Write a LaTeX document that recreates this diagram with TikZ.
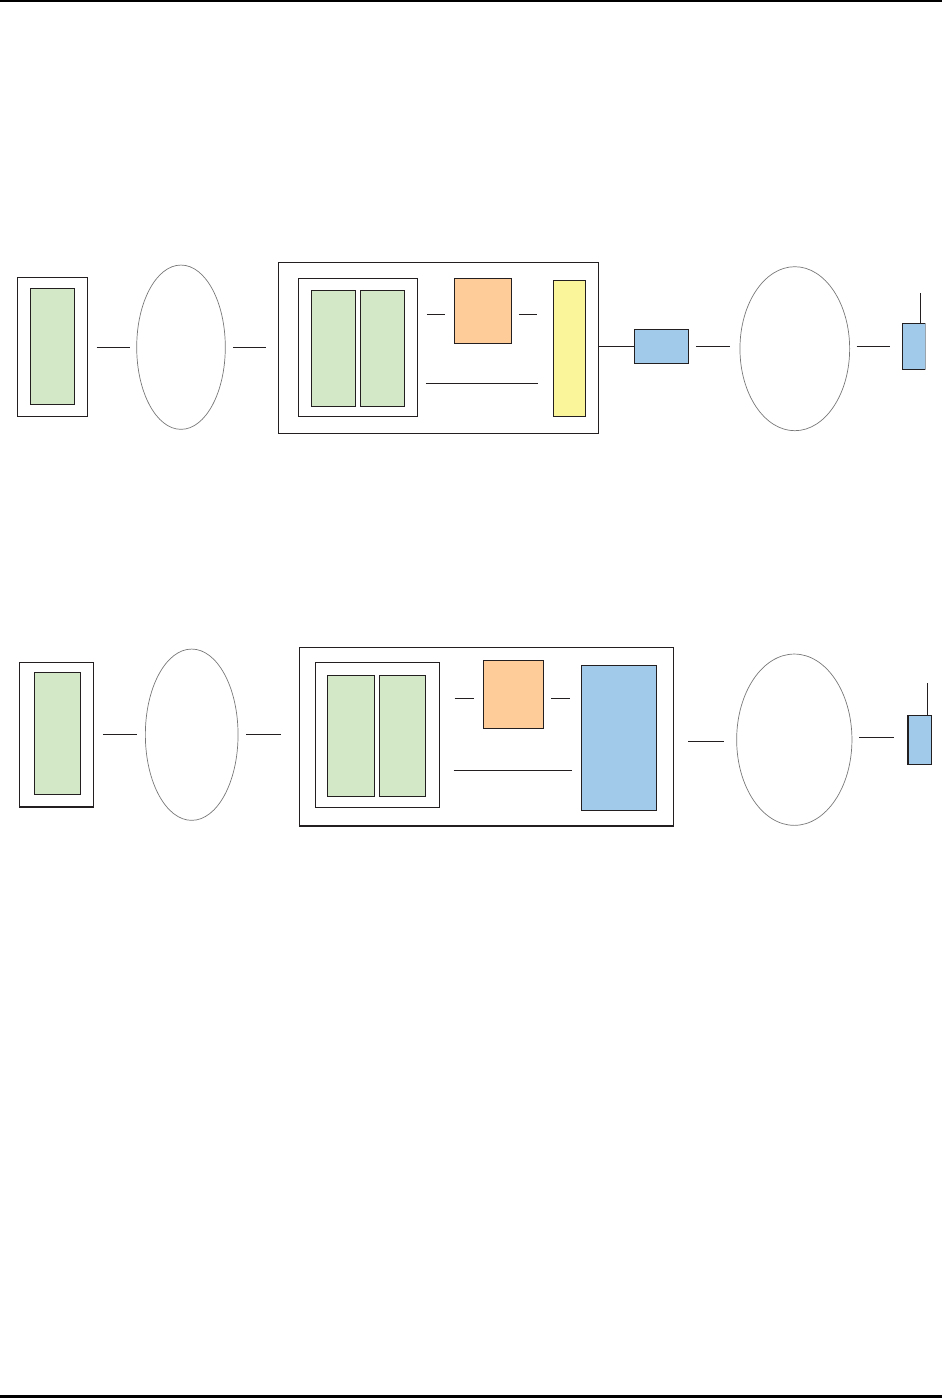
\documentclass[tikz,border=0pt]{standalone}
\usetikzlibrary{shapes.geometric}
\definecolor{gfill}{RGB}{210,232,199}
\definecolor{ofill}{RGB}{253,204,152}
\definecolor{yfill}{RGB}{250,244,154}
\definecolor{bfill}{RGB}{160,201,234}
\definecolor{edge}{RGB}{35,31,32}
\definecolor{ering}{RGB}{120,120,120}
\tikzset{
  box/.style={draw=edge, line width=1.2pt, rectangle, inner sep=0pt, minimum width=#1},
  box/.default=10pt,
  ring/.style={draw=ering, line width=0.7pt, ellipse, inner sep=0pt},
  wire/.style={draw=edge, line width=1.2pt},
  rule/.style={draw=black, line width=2.5pt}
}
\begin{document}
\begin{tikzpicture}[x=1pt,y=-1pt]
\useasboundingbox (0,0) rectangle (946,1398);
% page rules
\coordinate (tl) at (0,1);
\coordinate (tr) at (942,1);
\coordinate (bl) at (0,1396.5);
\coordinate (br) at (942,1396.5);
\draw[rule, line width=2pt] (tl) -- (tr);
\draw[rule] (bl) -- (br);

% ---------- Row 1 ----------
\begin{scope}
\clip (0,250) rectangle (925.3,450);
\node[box=70.4pt, minimum height=139pt] (o1) at (52.5,346.8) {};
\node[box=44pt, minimum height=116pt, fill=gfill] (g1) at (52.3,346.3) {};
\node[ring, minimum width=88.6pt, minimum height=164.3pt] (e1) at (181,347.2) {};
\node[box=320.4pt, minimum height=170.6pt] (B1) at (438.5,348) {};
\node[box=119.4pt, minimum height=138pt] (i1) at (358,347.3) {};
\node[box=44.4pt, minimum height=116pt, fill=gfill] (g1a) at (333.5,348.3) {};
\node[box=44.4pt, minimum height=116pt, fill=gfill] (g1b) at (382.5,348.3) {};
\node[box=57pt, minimum height=65pt, fill=ofill] (or1) at (482.8,310.8) {};
\node[box=32pt, minimum height=136pt, fill=yfill] (y1) at (569.3,348.3) {};
\node[box=54.4pt, minimum height=34pt, fill=bfill] (b1) at (661.5,346.3) {};
\node[ring, minimum width=109.7pt, minimum height=164pt] (e2) at (794.8,348.7) {};
\node[box=23.3pt, minimum height=46pt, fill=bfill] (s1) at (914,346.3) {};
\coordinate (a1) at ([xshift=19pt,yshift=30pt]s1.north west);

\coordinate (r1a) at (0,347.3);
\coordinate (r1b) at (0,314.3);
\coordinate (r1c) at (0,383.3);
\coordinate (r1d) at (0,346.3);
\draw[wire, shorten <=8.3pt, shorten >=6.7pt] (o1.east |- r1a) -- (e1.west |- r1a);
\draw[wire, shorten <=7.4pt, shorten >=11.6pt] (e1.east |- r1a) -- (B1.west |- r1a);
\draw[wire, shorten <=8.6pt, shorten >=8.3pt] (i1.east |- r1b) -- (or1.west |- r1b);
\draw[wire, shorten <=7pt, shorten >=15.3pt] (or1.east |- r1b) -- (y1.west |- r1b);
\draw[wire, shorten <=7.6pt, shorten >=14.3pt] (i1.east |- r1c) -- (y1.west |- r1c);
\draw[wire] (B1.east |- r1d) -- (b1.west |- r1d);
\draw[wire, shorten <=6.6pt, shorten >=10pt] (b1.east |- r1d) -- (e2.west |- r1d);
\draw[wire, shorten <=6.6pt, shorten >=11.3pt] (e2.east |- r1d) -- (s1.west |- r1d);
\draw[wire] (s1.north west -| a1) -- (a1);
\end{scope}

% ---------- Row 2 ----------
\node[box=74pt, minimum height=144.7pt] (o2) at (56.3,734.7) {};
\node[box=46.4pt, minimum height=122pt, fill=gfill] (g2) at (57.5,733.3) {};
\node[ring, minimum width=92.7pt, minimum height=171.3pt] (e3) at (191.7,734.7) {};
\node[box=374pt, minimum height=178.7pt] (B2) at (486.3,736.7) {};
\node[box=124pt, minimum height=145pt] (i2) at (377.3,734.8) {};
\node[box=47.4pt, minimum height=121pt, fill=gfill] (g2a) at (351,735.8) {};
\node[box=46pt, minimum height=121pt, fill=gfill] (g2b) at (402.3,735.8) {};
\node[box=60.4pt, minimum height=68pt, fill=ofill] (or2) at (513.5,694.3) {};
\node[box=75.4pt, minimum height=145pt, fill=bfill] (bb2) at (619,737.8) {};
\node[ring, minimum width=115.3pt, minimum height=171.3pt] (e4) at (794.3,739.7) {};
\node[box=23.3pt, minimum height=49pt, fill=bfill] (s2) at (919.7,739.8) {};
\coordinate (a2) at ([xshift=20.3pt,yshift=31.3pt]s2.north west);

\coordinate (r2a) at (0,734.3);
\coordinate (r2b) at (0,698.3);
\coordinate (r2c) at (0,770.3);
\coordinate (r2d) at (0,741.3);
\coordinate (r2e) at (0,737.3);
\draw[wire, shorten <=9pt, shorten >=7.6pt] (o2.east |- r2a) -- (e3.west |- r2a);
\draw[wire, shorten <=8pt, shorten >=17.6pt] (e3.east |- r2a) -- (B2.west |- r2a);
\draw[wire, shorten <=14.7pt, shorten >=8.6pt] (i2.east |- r2b) -- (or2.west |- r2b);
\draw[wire, shorten <=7pt, shorten >=10.3pt] (or2.east |- r2b) -- (bb2.west |- r2b);
\draw[wire, shorten <=13.7pt, shorten >=8.6pt] (i2.east |- r2c) -- (bb2.west |- r2c);
\draw[wire, shorten <=14.4pt, shorten >=12.4pt] (B2.east |- r2d) -- (e4.west |- r2d);
\draw[wire, shorten <=6.7pt, shorten >=13pt] (e4.east |- r2e) -- (s2.west |- r2e);
\draw[wire] (s2.north west -| a2) -- (a2);
\end{tikzpicture}
\end{document}
